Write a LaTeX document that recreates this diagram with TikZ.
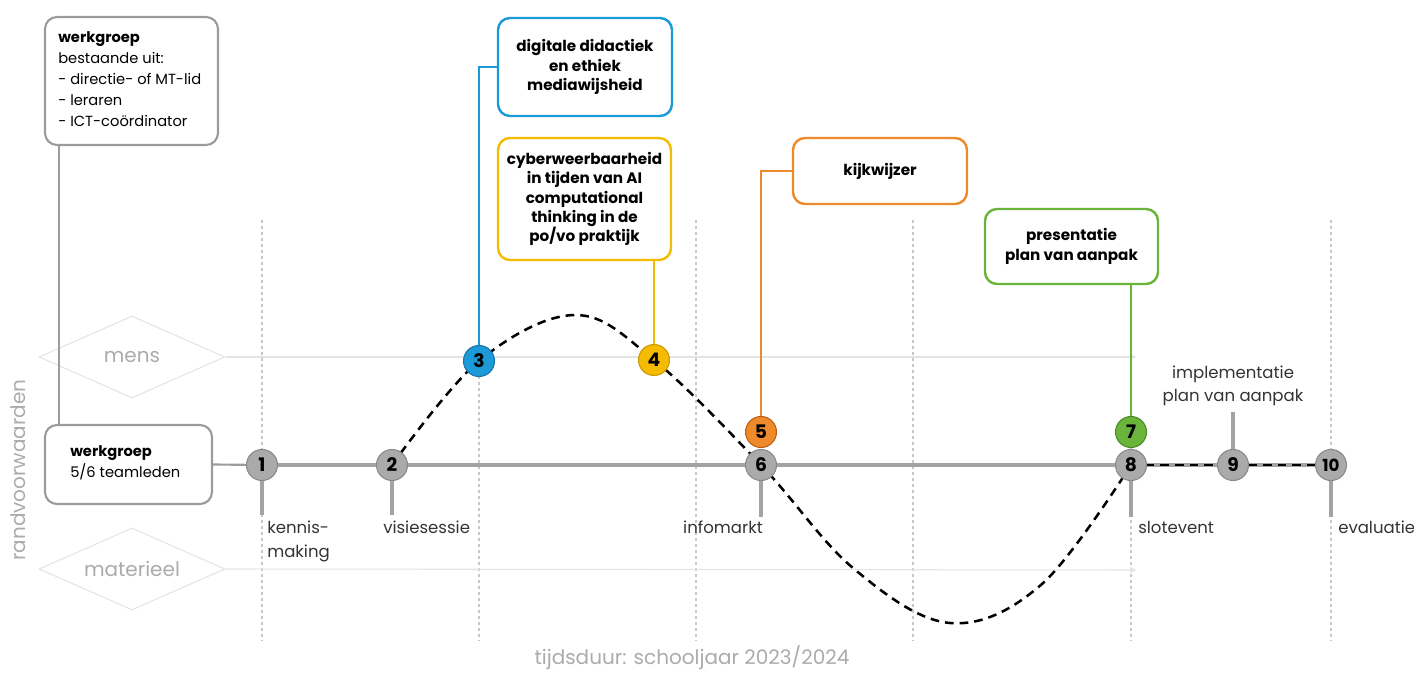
\documentclass[tikz,border=0pt]{standalone}
\usepackage{fontspec}
\setmainfont{Poppins}
\usetikzlibrary{shapes.geometric,arrows.meta}
\definecolor{lgray}{HTML}{A3A3A3}
\definecolor{cgray}{HTML}{AAAAAA}
\definecolor{cgrayd}{HTML}{8A8A8A}
\definecolor{bgray}{HTML}{9B9B9B}
\definecolor{dotgray}{HTML}{C8C8C8}
\definecolor{faint}{HTML}{E4E4E4}
\definecolor{ftext}{HTML}{ABABAB}
\definecolor{dtext}{HTML}{333333}
\definecolor{cblue}{HTML}{1B9AD7}
\definecolor{cblued}{HTML}{1675AD}
\definecolor{cyellow}{HTML}{F5BB00}
\definecolor{cyellowd}{HTML}{CC9A00}
\definecolor{corange}{HTML}{EE8A2B}
\definecolor{corangeD}{HTML}{BE5E14}
\definecolor{cgreen}{HTML}{6AB43C}
\definecolor{cgreend}{HTML}{4A8A26}
\begin{document}
\begin{tikzpicture}[x=0.75pt,y=-0.75pt,
  cbox/.style={draw, rounded corners=9pt, line width=1.8pt, fill=white, align=center,
    font=\bfseries\fontsize{11.4}{14.6}\selectfont, inner sep=0pt, text=black},
  wbox/.style={draw=bgray, rounded corners=9pt, line width=1.6pt, fill=white, inner sep=0pt},
  wtext/.style={align=left, font=\fontsize{11}{15.8}\selectfont, inner sep=0pt, text=black, anchor=west},
  num/.style={circle, minimum size=23.25pt, inner sep=0pt, line width=0.8pt,
    font=\bfseries\fontsize{14}{14}\selectfont, text=black},
  gnum/.style={num, fill=cgray, draw=cgrayd},
  dotline/.style={dotgray, line width=1.4pt, dash pattern=on 2pt off 2.5pt},
  axis/.style={lgray, line width=3.4pt},
  stem/.style={lgray, line width=3pt},
  lbl/.style={text=dtext, font=\fontsize{12.4}{17.5}\selectfont, inner sep=0pt, align=left},
  ftxt/.style={text=ftext, font=\fontsize{15}{16}\selectfont, inner sep=0pt},
  dia/.style={diamond, draw=faint, line width=0.8pt, minimum width=139.5pt, minimum height=61.5pt, aspect=2.27, inner sep=0pt, ftxt},
  faintline/.style={faint, line width=0.8pt, -{Latex[length=5pt,width=5pt]}},
  curve/.style={black, line width=1.9pt, dash pattern=on 6.5pt off 4.5pt}
]
\path[use as bounding box] (0,0) rectangle (1414,673);

% dotted verticals
\foreach \xx/\nm in {262/a,479/b,696/c,913/d,1131/e,1331/f}{
  \coordinate (vt\nm) at (\xx,220);
  \coordinate (vb\nm) at (\xx,641);
  \draw[dotline] (vt\nm) -- (vb\nm);
}

% diamonds
\node[dia] (mens) at (132,357) {mens};
\node[dia] (mat) at (132,569) {materieel};
\coordinate (mensend) at (1137,357);
\coordinate (matend) at (1137,570);
\draw[faintline] (mens.east) -- (mensend);
\draw[faintline] (mat.east) -- (matend);

% rotated label
\node[ftxt, rotate=90] (rand) at (18,470) {randvoorwaarden};
\node[ftxt] (tijd) at (692,658) {tijdsduur: schooljaar 2023/2024};

% werkgroep boxes
\node[wbox, minimum width=129.75pt, minimum height=96pt] (wtop) at (131.5,81) {};
\node[wtext] (wtoptext) at (58,79)
  {\textbf{werkgroep}\\bestaande uit:\\- directie- of MT-lid\\- leraren\\- ICT-coördinator};
\node[wbox, minimum width=125.25pt, minimum height=59.25pt] (wbot) at (128.5,464.5) {};
\node[wtext] (wbottext) at (70,463) {\textbf{werkgroep}\\5/6 teamleden};
\draw[bgray, line width=1.6pt] ([xshift=11.25pt]wtop.south west) -- ([xshift=11.25pt]wbot.north west);

% coloured boxes
\node[cbox, draw=cblue, minimum width=130.5pt, minimum height=73.5pt] (bblue) at (585,67)
  {digitale didactiek\\en ethiek\\mediawijsheid};
\node[cbox, draw=cyellow, minimum width=129.75pt, minimum height=91.5pt] (byel) at (584.5,199)
  {cyberweerbaarheid\\in tijden van AI\\computational\\thinking in de\\po/vo praktijk};
\node[cbox, draw=corange, minimum width=130.5pt, minimum height=49.5pt] (bora) at (880,171)
  {kijkwijzer};
\node[cbox, draw=cgreen, minimum width=129.75pt, minimum height=56.25pt] (bgre) at (1071.5,246.5)
  {presentatie\\plan van aanpak};

% node coordinates
\coordinate (p1) at (262,465);
\coordinate (p2) at (392,465);
\coordinate (p3) at (479,361);
\coordinate (p4) at (654,360);
\coordinate (p5) at (761,432);
\coordinate (p6) at (761,465);
\coordinate (p7) at (1131,432);
\coordinate (p8) at (1131,465);
\coordinate (p9) at (1233,465);
\coordinate (p10) at (1331,465);

% connectors to coloured boxes
\draw[cblue, line width=1.5pt] (bblue.west) -| (p3);
\draw[cyellow, line width=1.5pt] (p4) -- (p4 |- byel.south);
\draw[corange, line width=1.5pt] (bora.west) -| (p5);
\draw[cgreen, line width=1.5pt] (p7) -- (p7 |- bgre.south);

% axis
\draw[bgray, line width=1.6pt] (wbot.east) -- (p1);
\draw[axis] (p1) -- (p2) -- (p6) -- (p8) -- (p9) -- (p10);
\draw[curve] (p8) -- (p9) -- (p10);

% stems
\draw[stem] (p1) -- ++(0,50);
\draw[stem] (p2) -- ++(0,50);
\draw[stem] (p6) -- ++(0,52);
\draw[stem] (p8) -- ++(0,52);
\draw[stem] (p10) -- ++(0,52);
\draw[stem] (p9) -- ++(0,-53);

% dashed curve
\draw[curve] plot[smooth, tension=0.6] coordinates {(392,465) (479,361) (575,315) (654,360) (761,465) (853,568) (950,623) (1042,584) (1131,465)};

% circles
\node[gnum] (n1) at (p1) {1};
\node[gnum] (n2) at (p2) {2};
\node[num, fill=cblue, draw=cblued] (n3) at (p3) {3};
\node[num, fill=cyellow, draw=cyellowd] (n4) at (p4) {4};
\node[num, fill=corange, draw=corangeD] (n5) at (p5) {5};
\node[gnum] (n6) at (p6) {6};
\node[num, fill=cgreen, draw=cgreend] (n7) at (p7) {7};
\node[gnum] (n8) at (p8) {8};
\node[gnum] (n9) at (p9) {9};
\node[gnum, font=\bfseries\fontsize{12.5}{12.5}\selectfont] (n10) at (p10) {10};

% labels
\node[lbl, anchor=north west] (l1) at (267,521) {kennis-\\making};
\node[lbl, anchor=north west] (l2) at (383,521) {visiesessie};
\node[lbl, anchor=north] (l6) at (723,521) {infomarkt};
\node[lbl, anchor=north west] (l8) at (1138,521) {slotevent};
\node[lbl, anchor=north west] (l10) at (1338,521) {evaluatie};
\node[lbl, align=center, anchor=south] (l9) at (1233,406) {implementatie\\plan van aanpak};
\end{tikzpicture}
\end{document}
